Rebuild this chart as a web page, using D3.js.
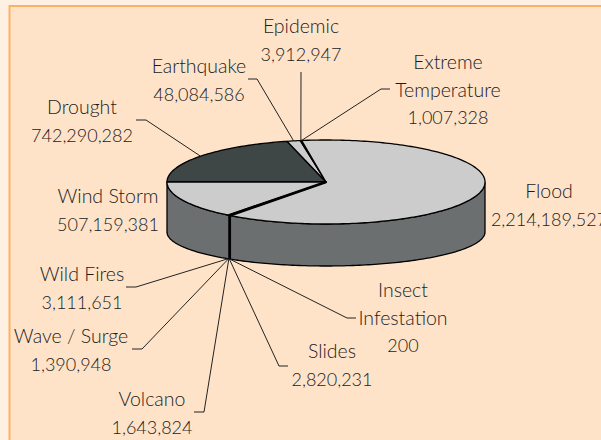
<!DOCTYPE html>
<html>
<head>
<meta charset="utf-8">
<script src="https://cdnjs.cloudflare.com/ajax/libs/d3/7.8.5/d3.min.js"></script>
<style>
html, body { margin: 0; padding: 0; background: #fef0e2; overflow: hidden; }
text { font-family: Lato, "Open Sans", sans-serif; font-size: 18px; font-weight: 300; fill: #1c1c1c; text-anchor: middle; }
text.name { font-size: 19.5px; }
</style>
</head>
<body>
<script>
var names = ['Drought', 'Earthquake', 'Epidemic', 'Extreme Temperature', 'Flood', 'Insect Infestation', 'Slides', 'Volcano', 'Wave / Surge', 'Wild Fires', 'Wind Storm'];
var values = [742290282, 48084586, 3912947, 1007328, 2214189527, 200, 2820231, 1643824, 1390948, 3111651, 507159381];
var valueLabels = ['742,290,282', '48,084,586', '3,912,947', '1,007,328', '2,214,189,527', '200', '2,820,231', '1,643,824', '1,390,948', '3,111,651', '507,159,381'];

var w = 601;
var h = 440;
var cx = 326;
var cy = 182;
var rx = 159;
var ry = 42;
// the floor of the pie is a flatter ellipse than its top
var floorY = 232;
var floorRy = 34;

// label layout: lines of the name, centre x, first baseline, elbow of the leader
var layout = {
	'Drought': { lines: ['Drought'], x: 82, y: 114, elbow: [[146, 120], [136, 120]] },
	'Earthquake': { lines: ['Earthquake'], x: 199, y: 73, elbow: [[257, 79], [248, 79]] },
	'Epidemic': { lines: ['Epidemic'], x: 301, y: 33, elbow: [[301, 72]] },
	'Extreme Temperature': { lines: ['Extreme', 'Temperature'], x: 448, y: 69, elbow: [[381, 89], [390, 89]] },
	'Flood': { lines: ['Flood'], x: 549, y: 198 },
	'Insect Infestation': { lines: ['Insect', 'Infestation'], x: 403, y: 297, elbow: [[347, 318], [356, 318]] },
	'Slides': { lines: ['Slides'], x: 332, y: 358, elbow: [[279, 366], [288, 366]] },
	'Volcano': { lines: ['Volcano'], x: 152, y: 406, elbow: [[204, 412], [194, 412]] },
	'Wave / Surge': { lines: ['Wave / Surge'], x: 71, y: 343, elbow: [[142, 349], [132, 349]] },
	'Wild Fires': { lines: ['Wild Fires'], x: 82, y: 281, elbow: [[136, 287], [126, 287]] },
	'Wind Storm': { lines: ['Wind Storm'], x: 108, y: 203 }
};

var colorTop = '#cccccc';
var colorDark = '#3e4646';
var colorWall = '#6b6f70';

var svg = d3.select('body')
			.append('svg')
			.attr('width', w)
			.attr('height', h)
			.style('display', 'block');

svg.append('rect')
	.attr('x', 9.5)
	.attr('y', 6)
	.attr('width', w)
	.attr('height', h)
	.attr('fill', '#ffe3c9')
	.attr('stroke', '#fdb164')
	.attr('stroke-width', 2);

var slices = d3.pie()
	.sort(null)
	.startAngle(1.5 * Math.PI)
	.endAngle(3.5 * Math.PI)(values);

function px(a) { return cx + rx * Math.sin(a); }
function py(a) { return cy - ry * Math.cos(a); }
function floorPy(a) { return floorY - floorRy * Math.cos(a); }

function arcPoints(a0, a1) {
	var n = Math.max(2, Math.ceil(Math.abs(a1 - a0) / 0.02));
	return d3.range(n + 1).map(function(i) {
		var a = a0 + (a1 - a0) * i / n;
		return [px(a), py(a)];
	});
}

var line = d3.line();

// front wall, from the right edge round to the left edge
var wallTop = arcPoints(2.5 * Math.PI, 3.5 * Math.PI);
var wallBottom = d3.range(0, 158).map(function(i) {
	var a = 3.5 * Math.PI - Math.PI * i / 157;
	return [px(a), floorPy(a)];
});

svg.append('path')
	.attr('d', line(wallTop.concat(wallBottom)) + 'Z')
	.attr('fill', colorWall)
	.attr('stroke', '#000')
	.attr('stroke-width', 1.3);

// top faces
svg.selectAll('path.slice')
	.data(slices)
	.enter()
	.append('path')
	.attr('class', 'slice')
	.attr('d', function(d) {
		return line([[cx, cy]].concat(arcPoints(d.startAngle, d.endAngle))) + 'Z';
	})
	.attr('fill', function(d, i) { return names[i] === 'Drought' ? colorDark : colorTop; })
	.attr('stroke', '#000')
	.attr('stroke-width', 1.3)
	.attr('stroke-linejoin', 'round');

// the tiny slices pile up on one seam, which reads as a thick black line
var seam = slices[names.indexOf('Insect Infestation')].startAngle;
svg.append('path')
	.attr('d', line([[cx, cy], [px(seam), py(seam)], [px(seam), floorPy(seam)]]))
	.attr('fill', 'none')
	.attr('stroke', '#000')
	.attr('stroke-width', 2.8);

// leaders and labels
slices.forEach(function(d, i) {
	var item = layout[names[i]];
	var mid = (d.startAngle + d.endAngle) / 2;
	var onFront = Math.cos(mid) < 0;
	if (item.elbow) {
		var start = [px(mid), onFront ? floorPy(mid) : py(mid)];
		svg.append('path')
			.attr('d', line([start].concat(item.elbow)))
			.attr('fill', 'none')
			.attr('stroke', '#222')
			.attr('stroke-width', 1);
	}
	var rows = item.lines.concat([valueLabels[i]]);
	svg.append('g')
		.selectAll('text')
		.data(rows)
		.enter()
		.append('text')
		.attr('class', function(t, j) { return j < item.lines.length ? 'name' : 'value'; })
		.attr('x', item.x)
		.attr('y', function(t, j) { return item.y + j * 27.5; })
		.text(function(t) { return t; });
});
</script>
</body>
</html>
